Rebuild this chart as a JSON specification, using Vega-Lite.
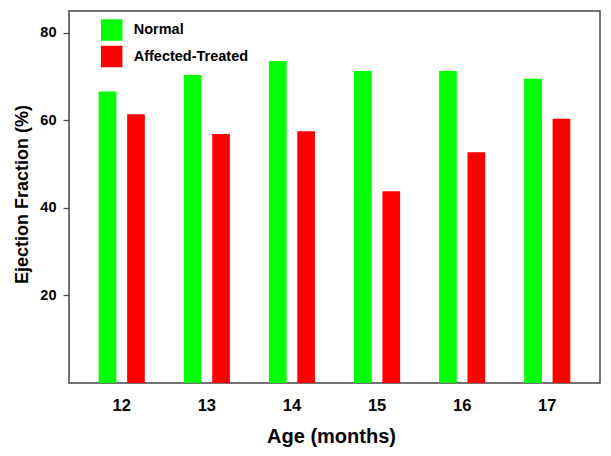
{
  "$schema": "https://vega.github.io/schema/vega-lite/v6.json",
  "autosize": {"type": "none"},
  "padding": {"left": 69, "top": 11, "right": 11, "bottom": 73},
  "width": 531,
  "height": 372,
  "background": "white",
  "config": {
    "font": "Liberation Sans",
    "view": {"stroke": "#444444", "strokeWidth": 1.5}
  },
  "data": {
    "values": [
      {"age": "12", "group": "Normal", "ef": 66.6},
      {"age": "12", "group": "Affected-Treated", "ef": 61.4},
      {"age": "13", "group": "Normal", "ef": 70.4},
      {"age": "13", "group": "Affected-Treated", "ef": 56.9},
      {"age": "14", "group": "Normal", "ef": 73.6},
      {"age": "14", "group": "Affected-Treated", "ef": 57.5},
      {"age": "15", "group": "Normal", "ef": 71.3},
      {"age": "15", "group": "Affected-Treated", "ef": 43.8},
      {"age": "16", "group": "Normal", "ef": 71.3},
      {"age": "16", "group": "Affected-Treated", "ef": 52.7},
      {"age": "17", "group": "Normal", "ef": 69.5},
      {"age": "17", "group": "Affected-Treated", "ef": 60.4}
    ]
  },
  "mark": {"type": "bar"},
  "encoding": {
    "x": {
      "field": "age",
      "type": "nominal",
      "scale": {"paddingInner": 0.458, "paddingOuter": 0.349},
      "axis": {
        "title": "Age (months)",
        "labelAngle": 0,
        "labelFont": "Liberation Sans",
        "labelFontWeight": "bold",
        "labelFontSize": 16.5,
        "labelColor": "black",
        "labelPadding": 14,
        "ticks": false,
        "domain": false,
        "titleFont": "Liberation Sans",
        "titleFontWeight": "bold",
        "titleFontSize": 20,
        "titleColor": "black",
        "titleBaseline": "alphabetic",
        "titleX": 262,
        "titleY": 59
      }
    },
    "xOffset": {
      "field": "group",
      "type": "nominal",
      "scale": {"domain": ["Normal", "Affected-Treated"], "paddingInner": 0.377, "paddingOuter": 0}
    },
    "y": {
      "field": "ef",
      "type": "quantitative",
      "scale": {"domain": [0, 85], "nice": false},
      "axis": {
        "title": "Ejection Fraction (%)",
        "values": [20, 40, 60, 80],
        "grid": false,
        "domain": false,
        "tickSize": 6,
        "tickColor": "#444444",
        "tickWidth": 1.2,
        "labelPadding": 7,
        "labelFont": "Liberation Sans",
        "labelFontWeight": "bold",
        "labelFontSize": 14.5,
        "labelColor": "black",
        "titleFont": "Liberation Sans",
        "titleFontWeight": "bold",
        "titleFontSize": 18,
        "titleColor": "black",
        "titleAngle": -90,
        "titleAlign": "center",
        "titleBaseline": "middle",
        "titleX": -47,
        "titleY": 183
      }
    },
    "color": {
      "field": "group",
      "type": "nominal",
      "scale": {"domain": ["Normal", "Affected-Treated"], "range": ["#00ff00", "#ff0000"]},
      "legend": {
        "title": null,
        "orient": "none",
        "legendX": 31.7,
        "legendY": 8,
        "symbolType": "square",
        "symbolSize": 462,
        "symbolStrokeWidth": 0,
        "symbolOpacity": 1,
        "labelFont": "Liberation Sans",
        "labelFontWeight": "bold",
        "labelFontSize": 14.5,
        "labelColor": "black",
        "labelOffset": 11,
        "rowPadding": 4.5,
        "padding": 0
      }
    }
  }
}
